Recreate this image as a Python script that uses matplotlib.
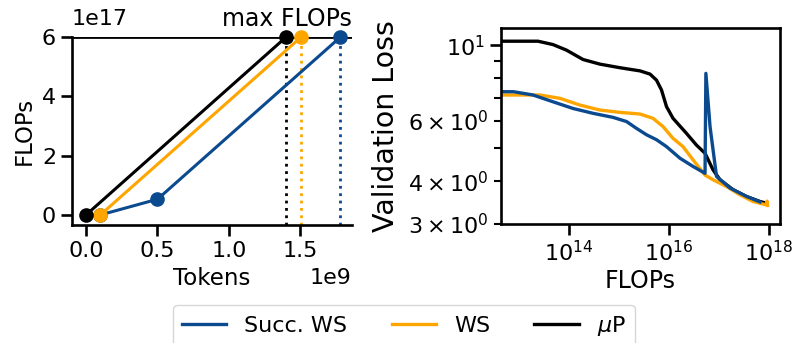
import numpy as np
import matplotlib
matplotlib.use('Agg')
import matplotlib.pyplot as plt
from matplotlib.lines import Line2D

# left panel: token/FLOP schedules (tokens in 1e9 units, FLOPs in 1e17 units)
succ_tokens = [0.1, 0.5, 1.78]
succ_flops = [0.0, 0.53, 6.0]
ws_tokens = [0.1, 1.505]
ws_flops = [0.0, 6.0]
mup_tokens = [0.0, 1.40]
mup_flops = [0.0, 6.0]
max_flops = 6.0

# right panel: validation loss vs FLOPs (log10 FLOPs)
mup_logx = [12.65, 13.39, 13.69, 13.96, 14.29, 14.63, 15.03, 15.43, 15.63, 15.76,
            15.86, 15.96, 16.09, 16.36, 16.56, 16.73, 16.89, 17.03, 17.29, 17.56,
            17.83, 17.96]
mup_loss = [10.27, 10.27, 10.04, 9.67, 9.08, 8.80, 8.59, 8.41, 8.23, 7.90,
            7.39, 6.61, 6.11, 5.52, 5.10, 4.83, 4.32, 4.04, 3.78, 3.61,
            3.49, 3.45]
ws_logx = [12.65, 13.43, 13.83, 14.23, 14.63, 15.03, 15.43, 15.69, 15.89, 16.09,
           16.29, 16.49, 16.73, 16.89, 17.16, 17.43, 17.69, 17.96, 17.97, 17.98]
ws_loss = [7.15, 7.15, 6.99, 6.68, 6.46, 6.36, 6.29, 6.11, 5.78, 5.34,
           5.05, 4.62, 4.17, 4.04, 3.86, 3.65, 3.49, 3.41, 3.50, 3.40]
succ_logx = [12.65, 12.9, 13.29, 13.69, 14.09, 14.49, 14.89, 15.16, 15.36, 15.56,
             15.76, 15.96, 16.23, 16.49, 16.73, 16.747, 16.83, 16.96, 17.23, 17.56,
             17.83]
succ_loss = [7.31, 7.31, 7.15, 6.83, 6.53, 6.32, 6.15, 5.98, 5.71, 5.47,
             5.29, 5.05, 4.67, 4.42, 4.22, 8.27, 5.78, 4.13, 3.82, 3.61,
             3.48]

c_succ = '#0b4a8f'
c_ws = '#ffa500'
c_mup = 'black'

plt.rcParams['font.size'] = 16
plt.rcParams['axes.linewidth'] = 1.9
plt.rcParams['xtick.major.width'] = 1.9
plt.rcParams['ytick.major.width'] = 1.9
plt.rcParams['xtick.minor.width'] = 1.5
plt.rcParams['ytick.minor.width'] = 1.5
plt.rcParams['xtick.major.size'] = 8
plt.rcParams['ytick.major.size'] = 8
plt.rcParams['xtick.minor.size'] = 5
plt.rcParams['ytick.minor.size'] = 5
plt.rcParams['xtick.labelsize'] = 16
plt.rcParams['ytick.labelsize'] = 16
plt.rcParams['axes.labelsize'] = 16.5

fig = plt.figure(figsize=(7.95, 3.43), dpi=100)
ax1 = fig.add_axes([0.0906, 0.344, 0.352, 0.548])
ax2 = fig.add_axes([0.630, 0.347, 0.351, 0.570])

# left panel
ybot = -0.34
ax1.axhline(max_flops, color='black', lw=2, zorder=1)
for tk, fl, c in [(succ_tokens, succ_flops, c_succ), (ws_tokens, ws_flops, c_ws),
                  (mup_tokens, mup_flops, c_mup)]:
    ax1.plot([tk[-1], tk[-1]], [ybot, fl[-1]], ls=':', color=c, lw=2, zorder=1)
    ax1.plot(tk, fl, color=c, lw=2.2, marker='o', ms=9.5,
             clip_on=False, zorder=3)
ax1.set_xlim(-0.098, 1.86)
ax1.set_ylim(ybot, 6.0)
ax1.set_xticks([0.0, 0.5, 1.0, 1.5])
ax1.set_yticks([0, 2, 4, 6])
ax1.spines['top'].set_visible(False)
ax1.spines['right'].set_visible(False)
ax1.set_xlabel('Tokens', labelpad=4)
ax1.set_ylabel('FLOPs')
ax1.text(0.0, 1.045, '1e17', transform=ax1.transAxes, ha='left', va='bottom', fontsize=16)
ax1.text(1.0, 1.03, 'max FLOPs', transform=ax1.transAxes, ha='right', va='bottom', fontsize=17)
ax1.text(1.0, -0.23, '1e9', transform=ax1.transAxes, ha='right', va='top', fontsize=16)

# right panel
ax2.plot(10 ** np.array(mup_logx), mup_loss, color=c_mup, lw=2.4)
ax2.plot(10 ** np.array(ws_logx), ws_loss, color=c_ws, lw=2.4)
ax2.plot(10 ** np.array(succ_logx), succ_loss, color=c_succ, lw=2.4)
ax2.set_xscale('log')
ax2.set_yscale('log')
ax2.set_xlim(10 ** 12.647, 10 ** 18.227)
ax2.set_ylim(3.0, 11.19)
ax2.set_xticks([1e14, 1e16, 1e18])
ax2.xaxis.set_minor_locator(matplotlib.ticker.NullLocator())
ax2.set_yticks([10])
ax2.set_yticks([3, 4, 5, 6, 7, 8, 9], minor=True)
ax2.set_yticklabels(['$3\\times10^{0}$', '$4\\times10^{0}$', '', '$6\\times10^{0}$', '', '', ''],
                    minor=True)
ax2.set_xlabel('FLOPs', fontsize=17, labelpad=3)
ax2.set_ylabel('Validation Loss', fontsize=20.5, labelpad=6)

handles = [Line2D([], [], color=c_succ, lw=2.4), Line2D([], [], color=c_ws, lw=2.4),
           Line2D([], [], color=c_mup, lw=2.4)]
fig.legend(handles, ['Succ. WS', 'WS', r'$\mu$P'], loc='upper center',
           bbox_to_anchor=(0.508, 0.111), borderaxespad=0, ncol=3, fontsize=16,
           columnspacing=2.0, frameon=True, fancybox=True)

fig.savefig('out.png', dpi=100)
